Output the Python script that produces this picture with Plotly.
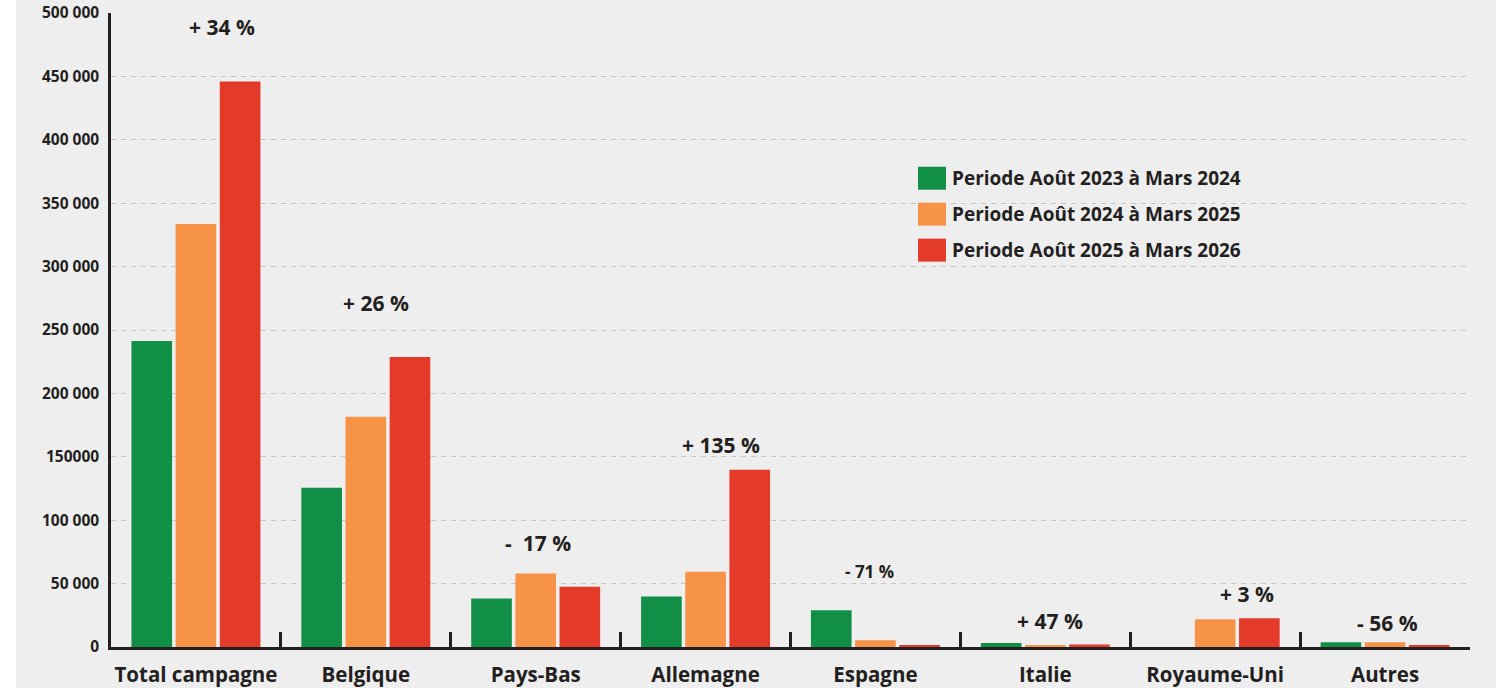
import plotly.graph_objects as go

categories = ["Total campagne", "Belgique", "Pays-Bas", "Allemagne", "Espagne",
              "Italie", "Royaume-Uni", "Autres"]
series_names = ["Periode Août 2023 à Mars 2024",
                "Periode Août 2024 à Mars 2025",
                "Periode Août 2025 à Mars 2026"]
values_2023_24 = [241300, 125600, 38200, 39800, 28900, 3200, 0, 3650]
values_2024_25 = [333500, 181500, 57900, 59400, 5300, 1400, 21900, 3700]
values_2025_26 = [446000, 228700, 47600, 139800, 1540, 2050, 22600, 1630]
pct_labels = ["+ 34 %", "+ 26 %", "-  17 %", "+ 135 %", "- 71 %", "+ 47 %", "+ 3 %", "- 56 %"]
y_tickvals = [0, 50000, 100000, 150000, 200000, 250000, 300000, 350000, 400000, 450000, 500000]
y_ticktext = ["0", "50 000", "100 000", "150000", "200 000", "250 000", "300 000",
              "350 000", "400 000", "450 000", "500 000"]

colors = ["#128f47", "#f69346", "#e33a2a"]
INK = "#231f20"
FONT = "Open Sans"

# label placement (layout only)
label_y = [488600, 271300, 82300, 159500, 59400, 20900, 42100, 19300]
label_xshift = [26, 10, 2, 15, -6, 5, 32, 2]
label_size = [21, 21, 21, 21, 17, 21, 21, 21]

W, H = 1496, 688
L, R, T, B = 111, 26, 12.5, 40.5
PW, PH = W - L - R, H - T - B


def px(xp):
    return (xp - L) / PW


def py(yp):
    return (H - B - yp) / PH


fig = go.Figure()
for name, vals, col in zip(series_names, [values_2023_24, values_2024_25, values_2025_26], colors):
    fig.add_trace(go.Bar(x=categories, y=vals, name=name, marker=dict(color=col, line=dict(width=0)),
                         showlegend=False))

annotations = []
for cat, lab, yv, xs, fs in zip(categories, pct_labels, label_y, label_xshift, label_size):
    annotations.append(dict(x=cat, y=yv, text=lab, showarrow=False, xshift=xs,
                            font=dict(family=FONT, size=fs, color=INK, weight="bold"),
                            xanchor="center", yanchor="middle"))

shapes = [
    dict(type="rect", xref="paper", yref="paper", x0=px(-5), x1=px(16), y0=py(H + 5), y1=py(-5),
         fillcolor="white", line=dict(width=0), layer="below"),
]
leg_rows = [178, 214, 250]
for name, col, yc in zip(series_names, colors, leg_rows):
    shapes.append(dict(type="rect", xref="paper", yref="paper", x0=px(918), x1=px(946),
                       y0=py(yc + 11.5), y1=py(yc - 11.5), fillcolor=col, line=dict(width=0)))
    annotations.append(dict(xref="paper", yref="paper", x=px(950), y=py(yc), text=name,
                            showarrow=False, xanchor="left", yanchor="middle",
                            font=dict(family=FONT, size=19, color=INK, weight="bold")))

fig.update_layout(
    width=W, height=H,
    margin=dict(l=L, r=R, t=T, b=B, pad=0, autoexpand=False),
    paper_bgcolor="#eeeeee", plot_bgcolor="#eeeeee",
    barmode="group", bargap=0.22, bargroupgap=0.08,
    annotations=annotations, shapes=shapes,
    font=dict(family=FONT, color=INK),
)
fig.update_xaxes(showline=True, linewidth=2.5, linecolor=INK, ticks="inside", tickson="boundaries",
                 ticklen=15, tickwidth=2.5, tickcolor=INK, showgrid=False, automargin=False,
                 ticklabelstandoff=8, tickangle=0,
                 tickfont=dict(family=FONT, size=20.5, color=INK, weight="bold"))
fig.update_yaxes(range=[0, 500000], tickvals=y_tickvals, ticktext=y_ticktext,
                 showline=True, linewidth=2.5, linecolor=INK, ticks="", ticklabelstandoff=6,
                 showgrid=True, gridcolor="#c6c6c6", gridwidth=1, griddash="5px,5px",
                 zeroline=False, automargin=False,
                 tickfont=dict(family=FONT, size=15.5, color=INK, weight="bold"))

fig.write_html("out.html", config={"displayModeBar": False},
               post_script="document.body.style.margin='0';document.body.style.background='#eeeeee';")
